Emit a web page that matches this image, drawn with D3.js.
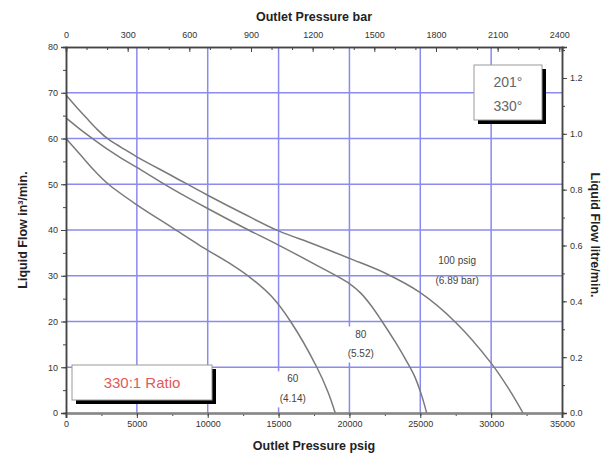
<!DOCTYPE html>
<html>
<head>
<meta charset="utf-8">
<script src="https://cdn.jsdelivr.net/npm/d3@7"></script>
<style>
  body { margin: 0; background: #fff; }
  svg { font-family: "Liberation Sans", Arial, sans-serif; }
</style>
</head>
<body>
<div class="chart"></div>
<script>
// ---- data ----
var psigTicks = [0, 5000, 10000, 15000, 20000, 25000, 30000, 35000];
var barTicks = [0, 300, 600, 900, 1200, 1500, 1800, 2100, 2400];
var flowTicks = [0, 10, 20, 30, 40, 50, 60, 70, 80];
var litreTicks = [0, 0.2, 0.4, 0.6, 0.8, 1.0, 1.2];

// inlet pressure 100 psig (6.89 bar)
var curve100 = [[0, 69.5], [700, 67], [1500, 64.3], [2200, 62], [2800, 60.3], [3500, 58.8],
  [4200, 57.5], [5000, 56], [7500, 51.8], [10000, 47.6], [12500, 43.6], [15000, 39.8],
  [17500, 36.9], [20000, 33.8], [22500, 30.6], [25000, 26.3], [27500, 19.8], [30000, 10.9],
  [31300, 5], [32250, 0]];
// 80 psig (5.52 bar)
var curve80 = [[0, 64.5], [1000, 62], [2000, 59.7], [3000, 57.5], [4000, 55.5], [5000, 53.7],
  [7500, 49], [10000, 44.7], [12500, 40.6], [15000, 36.7], [17500, 32.6], [20000, 28.3],
  [20800, 26.2], [21500, 23.6], [22200, 20.5], [23300, 15.2], [24000, 11.5], [24600, 8],
  [25100, 3.8], [25450, 0]];
// 60 psig (4.14 bar)
var curve60 = [[0, 60], [1000, 56.5], [2000, 53], [3000, 50], [5000, 45.5], [7500, 40.5],
  [9450, 36.6], [11500, 32.8], [13000, 29.6], [14500, 25.5], [15850, 20], [17700, 10],
  [18500, 4.5], [19000, 0]];

var curveLabels = [
  { lines: ["100 psig", "(6.89 bar)"], psig: 27600, flow: 32.5 },
  { lines: ["80", "(5.52)"], psig: 20800, flow: 16.5 },
  { lines: ["60", "(4.14)"], psig: 16000, flow: 6.7 }
];

var psigPerBar = 14.5038;
var litrePerIn3 = 0.016387;

// ---- layout ----
var width = 611, height = 464;
var pLeft = 66, pRight = 562, pTop = 47, pBottom = 413;
var gridColor = "#8a8af0";
var axisColor = "#444";

var svg = d3.select(".chart").append("svg")
  .attr("width", width)
  .attr("height", height);

var x = d3.scaleLinear().domain([0, 35000]).range([pLeft, pRight]);
var y = d3.scaleLinear().domain([0, 80]).range([pBottom, pTop]);
var xBar = d3.scaleLinear().domain([0, 35000 / psigPerBar]).range([pLeft, pRight]);
var yLitre = d3.scaleLinear().domain([0, 80 * litrePerIn3]).range([pBottom, pTop]);

/* vertical grid */
svg.append("g").selectAll("line")
  .data(psigTicks.slice(1, -1)).enter()
  .append("line")
  .attr("x1", d => x(d)).attr("x2", d => x(d))
  .attr("y1", pTop).attr("y2", pBottom)
  .attr("stroke", gridColor).attr("stroke-width", 1.5);

/* curve labels: white backing hides the vertical grid behind them */
var lbl = svg.append("g").selectAll("g")
  .data(curveLabels).enter()
  .append("g")
  .attr("transform", d => `translate(${x(d.psig)}, ${y(d.flow)})`);

lbl.append("rect")
  .attr("x", d => -d3.max(d.lines, s => s.length) * 2.9)
  .attr("y", -11)
  .attr("width", d => d3.max(d.lines, s => s.length) * 5.8)
  .attr("height", 36)
  .attr("fill", "#fff");

/* horizontal grid */
svg.append("g").selectAll("line")
  .data(flowTicks.slice(1, -1)).enter()
  .append("line")
  .attr("x1", pLeft).attr("x2", pRight)
  .attr("y1", d => y(d)).attr("y2", d => y(d))
  .attr("stroke", gridColor).attr("stroke-width", 1.5);

lbl.selectAll("text")
  .data(d => d.lines).enter()
  .append("text")
  .attr("y", (d, i) => i * 19.5)
  .attr("text-anchor", "middle")
  .attr("font-size", 10)
  .attr("fill", "#444")
  .text(d => d);

/* curves */
var line = d3.line()
  .x(d => x(d[0]))
  .y(d => y(d[1]))
  .curve(d3.curveCatmullRom.alpha(0.5));

svg.append("g").selectAll("path")
  .data([curve100, curve80, curve60]).enter()
  .append("path")
  .attr("d", d => line(d))
  .attr("fill", "none")
  .attr("stroke", "#7a7a7a")
  .attr("stroke-width", 1.5);

/* axes */
function styleAxis(g) {
  g.select(".domain").attr("stroke", axisColor).attr("stroke-width", 1.5);
  g.selectAll(".tick line").attr("stroke", axisColor);
  g.selectAll(".tick text").attr("fill", "#333").attr("font-size", 9);
}

// minor ticks first
svg.append("g")
  .attr("transform", `translate(0, ${pBottom})`)
  .call(d3.axisBottom(x).tickValues(d3.range(0, 35001, 2500)).tickSize(3).tickFormat(""))
  .call(styleAxis);
svg.append("g")
  .attr("transform", `translate(0, ${pBottom})`)
  .call(d3.axisBottom(x).tickValues(psigTicks).tickSize(5).tickPadding(3).tickFormat(d3.format("d")))
  .call(styleAxis)
  .select(".domain").attr("stroke", "#888").attr("stroke-width", 2.5);

svg.append("g")
  .attr("transform", `translate(0, ${pTop})`)
  .call(d3.axisTop(xBar).tickValues(d3.range(0, 2401, 100)).tickSize(-3).tickFormat(""))
  .call(styleAxis);
svg.append("g")
  .attr("transform", `translate(0, ${pTop})`)
  .call(d3.axisTop(xBar).tickValues(barTicks).tickSize(-5).tickPadding(9).tickFormat(d3.format("d")))
  .call(styleAxis);

svg.append("g")
  .attr("transform", `translate(${pLeft}, 0)`)
  .call(d3.axisLeft(y).tickValues(d3.range(0, 81, 5)).tickSize(3).tickFormat(""))
  .call(styleAxis);
svg.append("g")
  .attr("transform", `translate(${pLeft}, 0)`)
  .call(d3.axisLeft(y).tickValues(flowTicks).tickSize(5).tickPadding(3))
  .call(styleAxis);

svg.append("g")
  .attr("transform", `translate(${pRight}, 0)`)
  .call(d3.axisRight(yLitre).tickValues(d3.range(0, 1.31, 0.1)).tickSize(3).tickFormat(""))
  .call(styleAxis);
svg.append("g")
  .attr("transform", `translate(${pRight}, 0)`)
  .call(d3.axisRight(yLitre).tickValues(litreTicks).tickSize(5).tickPadding(3).tickFormat(d3.format(".1f")))
  .call(styleAxis);

/* axis titles */
svg.append("text")
  .attr("x", (pLeft + pRight) / 2).attr("y", 21)
  .attr("text-anchor", "middle")
  .attr("font-size", 12.5).attr("font-weight", "bold").attr("fill", "#222")
  .text("Outlet Pressure bar");

svg.append("text")
  .attr("x", (pLeft + pRight) / 2).attr("y", 450)
  .attr("text-anchor", "middle")
  .attr("font-size", 12.5).attr("font-weight", "bold").attr("fill", "#222")
  .text("Outlet Pressure psig");

svg.append("text")
  .attr("transform", `translate(27, ${(pTop + pBottom) / 2}) rotate(-90)`)
  .attr("text-anchor", "middle")
  .attr("font-size", 12.5).attr("font-weight", "bold").attr("fill", "#222")
  .text("Liquid Flow in³/min.");

svg.append("text")
  .attr("transform", `translate(591, ${(pTop + pBottom) / 2 + 5}) rotate(90)`)
  .attr("text-anchor", "middle")
  .attr("font-size", 12.5).attr("font-weight", "bold").attr("fill", "#222")
  .text("Liquid Flow litre/min.");

/* boxes with drop shadow */
function shadowBox(bx, by, bw, bh) {
  svg.append("rect")
    .attr("x", bx + 4).attr("y", by + 4)
    .attr("width", bw).attr("height", bh)
    .attr("fill", "#000");
  svg.append("rect")
    .attr("x", bx).attr("y", by)
    .attr("width", bw).attr("height", bh)
    .attr("fill", "#fff").attr("stroke", "#999").attr("stroke-width", 1);
}

shadowBox(474, 65, 68, 55);
svg.append("text")
  .attr("x", 508).attr("y", 87)
  .attr("text-anchor", "middle")
  .attr("font-size", 14).attr("fill", "#666")
  .text("201°");
svg.append("text")
  .attr("x", 508).attr("y", 111)
  .attr("text-anchor", "middle")
  .attr("font-size", 14).attr("fill", "#666")
  .text("330°");

shadowBox(72, 365, 140, 35);
svg.append("text")
  .attr("x", 142).attr("y", 388)
  .attr("text-anchor", "middle")
  .attr("font-size", 15).attr("fill", "#e05a5a")
  .text("330:1 Ratio");
</script>
</body>
</html>
